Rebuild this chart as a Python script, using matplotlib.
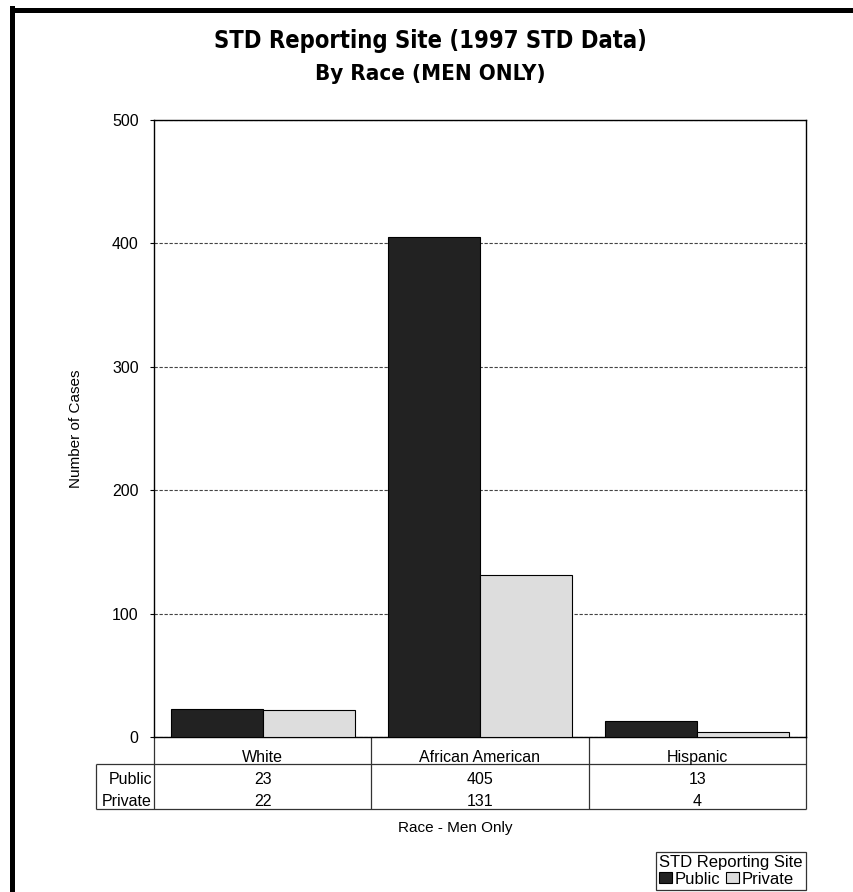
import matplotlib
matplotlib.use("Agg")
import matplotlib.pyplot as plt
from matplotlib.patches import Patch
from matplotlib.lines import Line2D
import matplotlib.transforms as mtransforms
import numpy as np

categories = ["White", "African American", "Hispanic"]
series_names = ["Public", "Private"]
public_vals = [23, 405, 13]
private_vals = [22, 131, 4]
yticks = [0, 100, 200, 300, 400, 500]
title = "STD Reporting Site (1997 STD Data)"
subtitle = "By Race (MEN ONLY)"
xlabel = "Race - Men Only"
ylabel = "Number of Cases"
legend_title = "STD Reporting Site"

colors = ["#222222", "#dddddd"]

plt.rcParams['font.family'] = ['Liberation Sans', 'DejaVu Sans']
W, H = 854, 892
fig = plt.figure(figsize=(W / 100, H / 100), dpi=100)

# outer frame (left and top lines)
fig.add_artist(Line2D([12 / W, 12 / W], [0, 1 - 8 / H], transform=fig.transFigure,
                      color='black', lw=3.6, solid_capstyle='projecting'))
fig.add_artist(Line2D([12 / W, 1], [1 - 10 / H, 1 - 10 / H], transform=fig.transFigure,
                      color='black', lw=3.6, solid_capstyle='projecting'))

ax_l, ax_r, ax_t, ax_b = 154, 806, 120, 737
axw, axh = ax_r - ax_l, ax_b - ax_t
ax = fig.add_axes([ax_l / W, 1 - ax_b / H, axw / W, axh / H])

x = np.arange(len(categories))
bw = 0.424
ax.bar(x - bw / 2, public_vals, bw, color=colors[0], edgecolor='black', linewidth=0.8, zorder=3)
ax.bar(x + bw / 2, private_vals, bw, color=colors[1], edgecolor='black', linewidth=0.8, zorder=3)
ax.set_xlim(-0.5, len(categories) - 0.5)
ax.set_ylim(0, 500)
ax.set_yticks(yticks)
ax.set_yticklabels([str(v) for v in yticks], fontsize=11.5)
ax.set_xticks([])
ax.tick_params(axis='y', length=3, width=0.8, pad=8)
for s in ax.spines.values():
    s.set_linewidth(1.0)
ax.yaxis.grid(True, linestyle=(0, (3, 1.5)), color='#444444', linewidth=0.8, zorder=0)
ax.set_axisbelow(True)
ax.set_ylabel(ylabel, fontsize=11)
ax.yaxis.set_label_coords((83 - ax_l) / axw, 0.5)

# data table below the axes (x in data coords, y in axes coords)
blend = mtransforms.blended_transform_factory(ax.transData, ax.transAxes)
def ay(py):
    return (ax_b - py) / axh
def axx(px):
    return (px - ax_l) / axw
lkw = dict(color='#333333', lw=0.9, clip_on=False, solid_capstyle='butt')
hdr_bot, row_mid, tab_bot = 764, 786, 809
lab_l = 96
tfs = 11.5
ax.plot([axx(lab_l), 1], [ay(hdr_bot)] * 2, transform=ax.transAxes, **lkw)
ax.plot([axx(lab_l), 1], [ay(tab_bot)] * 2, transform=ax.transAxes, **lkw)
for xb in np.arange(len(categories) + 1) - 0.5:
    ax.plot([xb, xb], [0, ay(tab_bot)], transform=blend, **lkw)
ax.plot([axx(lab_l)] * 2, [ay(hdr_bot), ay(tab_bot)], transform=ax.transAxes, **lkw)
for i, c in enumerate(categories):
    ax.text(x[i], ay(762), c, transform=blend, ha='center', va='baseline', fontsize=tfs)
rows = [public_vals, private_vals]
row_base = [784, 806]
for name, vals, rb in zip(series_names, rows, row_base):
    ax.text(-0.003, ay(rb), name, transform=ax.transAxes, ha='right', va='baseline', fontsize=tfs)
    for i, v in enumerate(vals):
        ax.text(x[i], ay(rb), str(v), transform=blend, ha='center', va='baseline', fontsize=tfs)

tfam = ['DejaVu Sans', 'Liberation Sans']
fig.text(430 / W, 1 - 41 / H, title, ha='center', va='center', fontsize=17,
         fontweight='bold', family=tfam, fontstretch='condensed')
fig.text(430 / W, 1 - 74 / H, subtitle, ha='center', va='center', fontsize=16,
         fontweight='bold', family=tfam, fontstretch='condensed')
fig.text(455 / W, 1 - 828 / H, xlabel, ha='center', va='center', fontsize=11)

handles = [Patch(facecolor=colors[0], edgecolor='black', linewidth=0.8),
           Patch(facecolor=colors[1], edgecolor='black', linewidth=0.8)]
leg = fig.legend(handles, series_names, title=legend_title, ncol=2,
                 loc='lower right', bbox_to_anchor=(806 / W, 1 - 890 / H),
                 fontsize=12, title_fontsize=12, frameon=True, fancybox=False,
                 handlelength=0.75, handleheight=0.65, handletextpad=0.15,
                 columnspacing=0.4, borderpad=0.2, borderaxespad=0, labelspacing=0.1)
leg._legend_box.align = 'left'
leg.get_frame().set_edgecolor('black')
leg.get_frame().set_linewidth(0.9)

fig.savefig("out.png", dpi=100)
